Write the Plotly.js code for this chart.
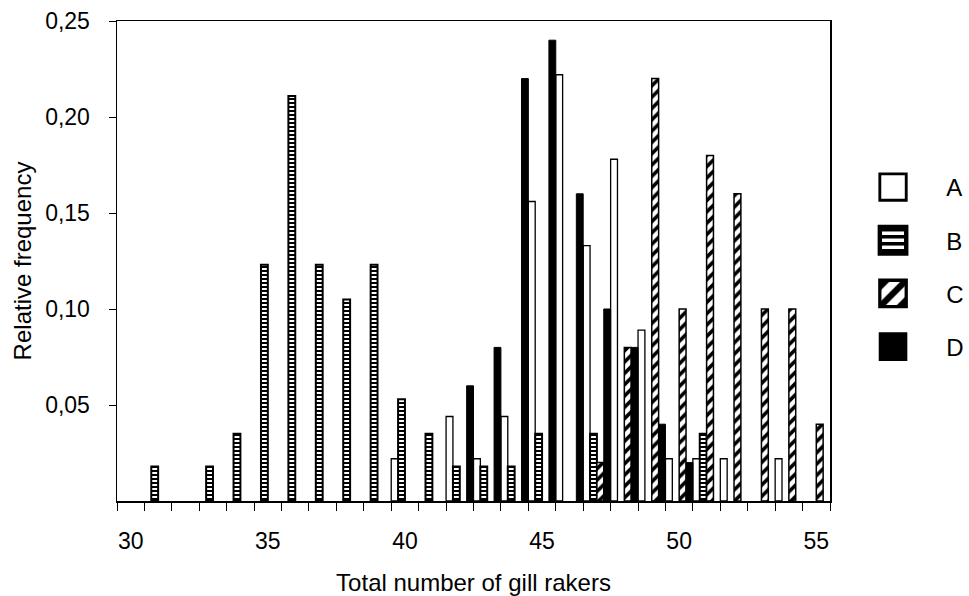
<!DOCTYPE html>
<html>
<head>
<meta charset="utf-8">
<script src="https://cdn.plot.ly/plotly-3.0.1.min.js"></script>
<style>
html,body{margin:0;padding:0;background:#fff;}
#chart{width:969px;height:596px;}
</style>
</head>
<body>
<div id="chart"></div>
<script>
// Gill raker counts (categories) and relative frequencies per sample
const rakers = [30,31,32,33,34,35,36,37,38,39,40,41,42,43,44,45,46,47,48,49,50,51,52,53,54,55];
const seriesNames = ["A","B","C","D"];
const freqA = [0,0,0,0,0,0,0,0,0,0,0.022,0,0.044,0.022,0.044,0.156,0.222,0.133,0.178,0.089,0.022,0.022,0.022,0,0.022,0];
const freqB = [0,0.018,0,0.018,0.035,0.123,0.211,0.123,0.105,0.123,0.053,0.035,0.018,0.018,0.018,0.035,0,0.035,0,0,0,0.035,0,0,0,0];
const freqC = [0,0,0,0,0,0,0,0,0,0,0,0,0,0,0,0,0,0.02,0.08,0.22,0.10,0.18,0.16,0.10,0.10,0.04];
const freqD = [0,0,0,0,0,0,0,0,0,0,0,0,0.06,0.08,0.22,0.24,0.16,0.10,0.08,0.04,0.02,0,0,0,0,0];
const xTickVals = [30,35,40,45,50,55];
const yTickVals = [0.05,0.10,0.15,0.20,0.25];

const FONT = "Liberation Sans, Arial, Helvetica, sans-serif";
const nb = "\u00a0\u00a0";

function mk(name, y, fill, pattern, lw) {
  const m = {color: fill, line: {color: "#000", width: lw}};
  if (pattern) m.pattern = pattern;
  return {type: "bar", x: rakers, y: y.map(v => v === 0 ? null : v), name: nb + name,
          legendgroup: name, marker: m, hoverinfo: "x+y"};
}

const traces = [
  mk(seriesNames[0], freqA, "#fff", null, 1.3),
  mk(seriesNames[1], freqB, "#fff", {shape: "-", fgcolor: "#000", bgcolor: "#fff", size: 4, solidity: 0.5}, 2),
  mk(seriesNames[2], freqC, "#fff", {shape: "/", fgcolor: "#000", bgcolor: "#fff", size: 8, solidity: 0.45}, 1.5),
  mk(seriesNames[3], freqD, "#000", null, 1)
];

const layout = {
  width: 969, height: 596,
  margin: {l: 117, r: 139, t: 21, b: 95, pad: 0},
  paper_bgcolor: "#fff", plot_bgcolor: "#fff",
  separators: ", ",
  font: {family: FONT, color: "#000", size: 23},
  barmode: "group", bargap: 0, bargroupgap: 0,
  showlegend: true,
  legend: {xref: "container", yref: "container", x: 0.9216, xanchor: "left", y: 0.7232, yanchor: "top",
           font: {family: FONT, size: 24, color: "#000"},
           traceorder: "grouped", tracegroupgap: 19, bgcolor: "rgba(0,0,0,0)", borderwidth: 0},
  xaxis: {
    range: [29.5, 55.5], tickvals: xTickVals, ticktext: xTickVals.map(String),
    ticks: "outside", ticklen: 8, tickcolor: "rgba(0,0,0,0)", ticklabelstandoff: 11,
    minor: {tick0: 29.5, dtick: 1, ticks: "outside", ticklen: 8, tickwidth: 1, tickcolor: "#000", showgrid: false},
    showline: true, linecolor: "#000", linewidth: 1.5, mirror: true,
    showgrid: false, zeroline: false,
    tickfont: {family: FONT, size: 23, color: "#000"},
    title: {text: "Total number of gill rakers", font: {family: FONT, size: 24, color: "#000"}, standoff: 24}
  },
  yaxis: {
    range: [0, 0.25], tickvals: yTickVals, tickformat: ".2f",
    ticks: "outside", ticklen: 7, tickwidth: 1, tickcolor: "#000", ticklabelstandoff: 14,
    showline: true, linecolor: "#000", linewidth: 1.5, mirror: true,
    showgrid: false, zeroline: false,
    tickfont: {family: FONT, size: 23, color: "#000"},
    title: {text: "Relative frequency", font: {family: FONT, size: 24, color: "#000"}, standoff: 6}
  }
};

Plotly.newPlot("chart", traces, layout, {staticPlot: true, displayModeBar: false}).then(function(gd){
  const leg = gd.querySelector(".legend");
  if (leg) {
    leg.removeAttribute("clip-path");
    leg.querySelectorAll("[clip-path]").forEach(function(el){ el.removeAttribute("clip-path"); });
  }
  gd.querySelectorAll(".legendpoints path").forEach(function(p){
    p.setAttribute("transform", "scale(2.2)");
  });
});
</script>
</body>
</html>
